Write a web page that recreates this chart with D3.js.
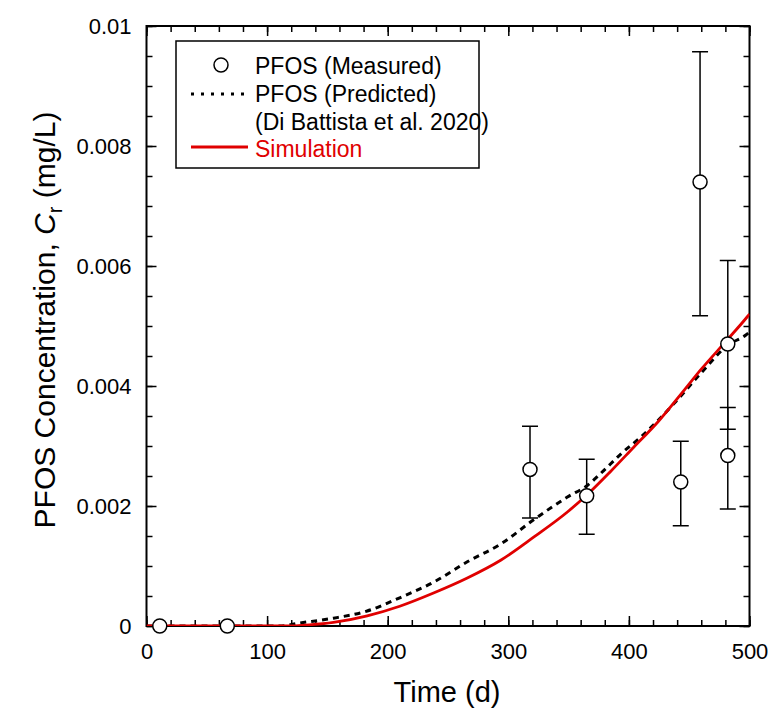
<!DOCTYPE html>
<html>
<head>
<meta charset="utf-8">
<title>PFOS concentration</title>
<script src="https://d3js.org/d3.v7.min.js"></script>
<style>
  body { margin: 0; background: #fff; }
  svg text { font-family: "Liberation Sans", Arial, sans-serif; }
</style>
</head>
<body>
<svg id="chart" width="771" height="708"></svg>
<script>
// measured points (time in d, concentration in mg/L)
var measTime = [11, 67, 318, 365, 443, 459, 482, 482];
var measConc = [0, 0, 0.00261, 0.00217, 0.0024, 0.0074, 0.0047, 0.00284];
var measLow  = [null, null, 0.0018, 0.00153, 0.00167, 0.00517, 0.00328, 0.00195];
var measHigh = [null, null, 0.00333, 0.00278, 0.00308, 0.00957, 0.00609, 0.00364];

// predicted curve (Di Battista et al. 2020)
var predTime = [0, 110, 127, 155, 183, 210, 238, 266, 294, 321, 349, 366, 377, 394, 410, 438, 460, 482, 497, 500];
var predConc = [0, 0, 0.00005, 0.00013, 0.00025, 0.00047, 0.00073, 0.00107, 0.00137, 0.00177, 0.00215, 0.00235, 0.00255, 0.00288, 0.00315, 0.00372, 0.00422, 0.00468, 0.00485, 0.0049];

// simulation curve
var simTime = [0, 115, 135, 155, 183, 210, 238, 266, 294, 321, 349, 366, 385, 404, 424, 443, 460, 482, 498, 500];
var simConc = [0, 0, 0.00002, 0.00006, 0.00017, 0.00033, 0.00055, 0.0008, 0.0011, 0.00148, 0.0019, 0.0022, 0.00258, 0.00298, 0.0034, 0.00386, 0.00428, 0.00478, 0.00515, 0.0052];

var xTicks = [0, 100, 200, 300, 400, 500];
var yTicks = [0, 0.002, 0.004, 0.006, 0.008, 0.01];
var yTickLabels = ["0", "0.002", "0.004", "0.006", "0.008", "0.01"];

var legendLabels = ["PFOS (Measured)", "PFOS (Predicted)", "(Di Battista et al. 2020)", "Simulation"];

var svg = d3.select("#chart");
// note: "top" is taken by window.top, so plot edges get their own names
var pLeft = 146.5, pRight = 749.5, pTop = 26, pBottom = 626;

var x = d3.scaleLinear().domain([0, 500]).range([pLeft, pRight]);
var y = d3.scaleLinear().domain([0, 0.01]).range([pBottom, pTop]);

svg.append("defs").append("clipPath").attr("id", "plotclip")
  .append("rect").attr("x", pLeft).attr("y", pTop - 5)
  .attr("width", pRight - pLeft).attr("height", pBottom - pTop + 5);

function styleAxis(g) {
  g.select(".domain").remove();
  g.selectAll(".tick line").attr("stroke", "#000").attr("stroke-width", 1.5);
  g.selectAll("text").attr("font-size", "22px").attr("fill", "#000")
    .attr("font-family", "Liberation Sans, Arial, sans-serif");
}

var minorX = d3.range(0, 501, 20);
var minorY = d3.range(0, 0.01001, 0.0005);

// bottom
svg.append("g").attr("transform", "translate(0," + pBottom + ")")
  .call(d3.axisBottom(x).tickValues(minorX).tickSize(-6).tickFormat("")).call(styleAxis);
svg.append("g").attr("transform", "translate(0," + pBottom + ")")
  .call(d3.axisBottom(x).tickValues(xTicks).tickSize(-10).tickPadding(17).tickFormat(d3.format("d"))).call(styleAxis);
// top
svg.append("g").attr("transform", "translate(0," + pTop + ")")
  .call(d3.axisTop(x).tickValues(minorX).tickSize(-6).tickFormat("")).call(styleAxis);
svg.append("g").attr("transform", "translate(0," + pTop + ")")
  .call(d3.axisTop(x).tickValues(xTicks).tickSize(-10).tickFormat("")).call(styleAxis);
// left
svg.append("g").attr("transform", "translate(" + pLeft + ",0)")
  .call(d3.axisLeft(y).tickValues(minorY).tickSize(-6).tickFormat("")).call(styleAxis);
svg.append("g").attr("transform", "translate(" + pLeft + ",0)")
  .call(d3.axisLeft(y).tickValues(yTicks).tickSize(-10).tickPadding(15)
    .tickFormat(function(d, i) { return yTickLabels[i]; })).call(styleAxis);
// right
svg.append("g").attr("transform", "translate(" + pRight + ",0)")
  .call(d3.axisRight(y).tickValues(minorY).tickSize(-6).tickFormat("")).call(styleAxis);
svg.append("g").attr("transform", "translate(" + pRight + ",0)")
  .call(d3.axisRight(y).tickValues(yTicks).tickSize(-10).tickFormat("")).call(styleAxis);

// frame
svg.append("rect").attr("x", pLeft).attr("y", pTop)
  .attr("width", pRight - pLeft).attr("height", pBottom - pTop)
  .attr("fill", "none").attr("stroke", "#000").attr("stroke-width", 2);

var plot = svg.append("g").attr("clip-path", "url(#plotclip)");

var line = d3.line().x(function(d) { return x(d[0]); }).y(function(d) { return y(d[1]); })
  .curve(d3.curveMonotoneX);

plot.append("path").datum(d3.zip(predTime, predConc))
  .attr("d", line).attr("fill", "none").attr("stroke", "#000")
  .attr("stroke-width", 3).attr("stroke-dasharray", "6,5");

plot.append("path").datum(d3.zip(simTime, simConc))
  .attr("d", line).attr("fill", "none").attr("stroke", "#e00000")
  .attr("stroke-width", 2.8);

// error bars
var meas = measTime.map(function(t, i) {
  return { t: t, c: measConc[i], lo: measLow[i], hi: measHigh[i] };
});
var eb = plot.selectAll(".err").data(meas.filter(function(d) { return d.lo !== null; }))
  .enter().append("g").attr("class", "err")
  .attr("stroke", "#000").attr("stroke-width", 1.5);
eb.append("line").attr("x1", function(d) { return x(d.t); }).attr("x2", function(d) { return x(d.t); })
  .attr("y1", function(d) { return y(d.lo); }).attr("y2", function(d) { return y(d.hi); });
eb.append("line").attr("x1", function(d) { return x(d.t) - 8; }).attr("x2", function(d) { return x(d.t) + 8; })
  .attr("y1", function(d) { return y(d.lo); }).attr("y2", function(d) { return y(d.lo); });
eb.append("line").attr("x1", function(d) { return x(d.t) - 8; }).attr("x2", function(d) { return x(d.t) + 8; })
  .attr("y1", function(d) { return y(d.hi); }).attr("y2", function(d) { return y(d.hi); });

svg.selectAll(".pt").data(meas).enter().append("circle").attr("class", "pt")
  .attr("cx", function(d) { return x(d.t); }).attr("cy", function(d) { return y(d.c); })
  .attr("r", 7).attr("fill", "#fff").attr("stroke", "#000").attr("stroke-width", 1.5);

// legend
var lg = svg.append("g");
lg.append("rect").attr("x", 176).attr("y", 41).attr("width", 303).attr("height", 127)
  .attr("fill", "#fff").attr("stroke", "#000").attr("stroke-width", 1.5);
lg.append("circle").attr("cx", 221).attr("cy", 65).attr("r", 7)
  .attr("fill", "#fff").attr("stroke", "#000").attr("stroke-width", 1.5);
lg.append("line").attr("x1", 191).attr("x2", 248).attr("y1", 94).attr("y2", 94)
  .attr("stroke", "#000").attr("stroke-width", 3).attr("stroke-dasharray", "3,7");
lg.append("line").attr("x1", 191).attr("x2", 248).attr("y1", 147).attr("y2", 147)
  .attr("stroke", "#e00000").attr("stroke-width", 3);
var lgY = [74, 102, 130, 157];
legendLabels.forEach(function(s, i) {
  lg.append("text").attr("x", 255).attr("y", lgY[i]).attr("font-size", "23px")
    .attr("fill", i === 3 ? "#e00000" : "#000").text(s);
});

// axis titles
svg.append("text").attr("x", 447).attr("y", 702).attr("text-anchor", "middle")
  .attr("font-size", "29px").text("Time (d)");

var yt = svg.append("text").attr("transform", "translate(55,320) rotate(-90)")
  .attr("text-anchor", "middle").attr("font-size", "30px");
yt.append("tspan").text("PFOS Concentration,  ");
yt.append("tspan").attr("font-style", "italic").text("C");
yt.append("tspan").attr("font-size", "20px").attr("dy", 7).text("r");
yt.append("tspan").attr("dy", -7).text(" (mg/L)");
</script>
</body>
</html>
